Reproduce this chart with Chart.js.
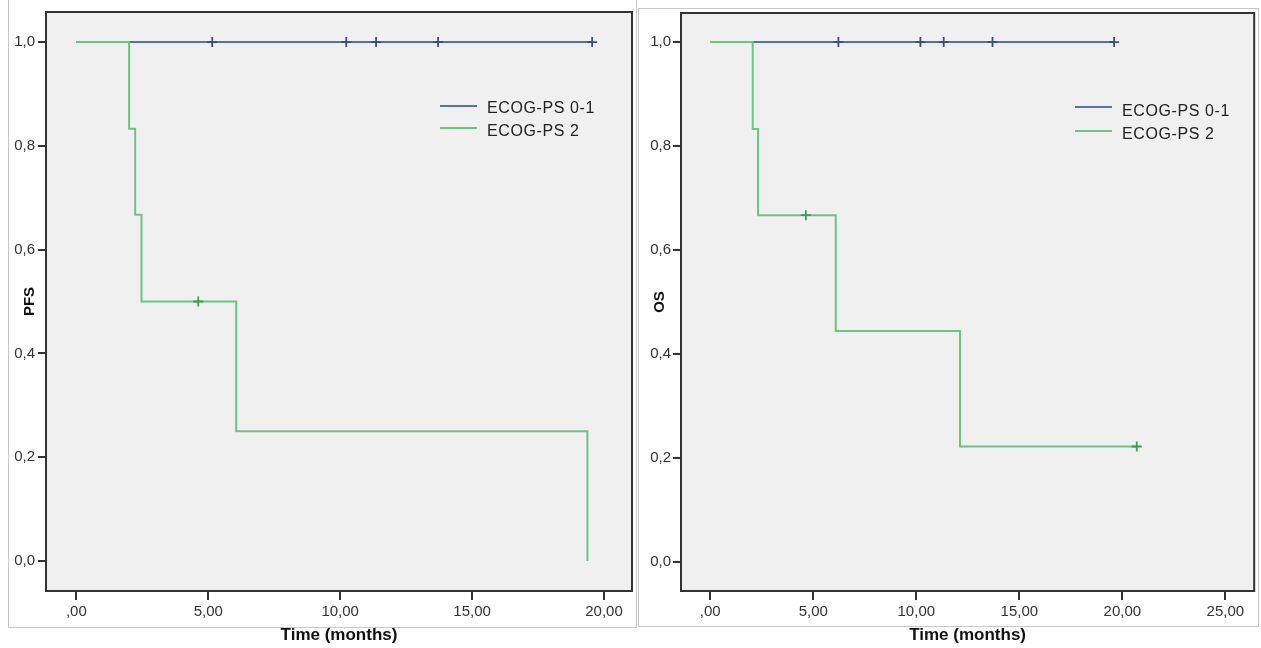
<!DOCTYPE html>
<html>
<head>
<meta charset="utf-8">
<script src="https://cdn.jsdelivr.net/npm/chart.js@4.4.0/dist/chart.umd.min.js"></script>
<style>
  body { margin: 0; background: #fff; width: 1261px; height: 648px; overflow: hidden; position: relative; font-family: "Liberation Sans", Arial, sans-serif; }
  .frame { position: absolute; border: 1px solid #c8c8c8; box-sizing: border-box; }
  .holder { position: absolute; top: 0; height: 648px; }
  .legend { position: absolute; width: 180px; height: 150px; font-size: 16px; color: #222; letter-spacing: 0.6px; }
  .legend .swatch { position: absolute; width: 37px; height: 1.5px; }
  .legend .txt { position: absolute; line-height: 18px; white-space: nowrap; }
</style>
</head>
<body>
<div class="frame" style="left:8px; top:-1px; width:629px; height:629px;"></div>
<div class="frame" style="left:638px; top:8px; width:621px; height:619px;"></div>

<div class="holder" style="left:0; width:640px;"><canvas id="chartPFS"></canvas></div>
<div class="holder" style="left:640px; width:621px;"><canvas id="chartOS"></canvas></div>

<div class="legend" id="legendPFS" style="left:440px; top:0;"></div>
<div class="legend" id="legendOS" style="left:1075px; top:0;"></div>

<script>
// series labels
var groupLabels = ['ECOG-PS 0-1', 'ECOG-PS 2'];

// PFS panel (left)
var pfsLowTimes = [0, 19.55];
var pfsLowSurv = [1, 1];
var pfsLowCensorTimes = [5.15, 10.23, 11.36, 13.71, 19.55];
var pfsLowCensorSurv = [1, 1, 1, 1, 1];
var pfsHighTimes = [0, 2.0, 2.23, 2.47, 6.06, 19.37];
var pfsHighSurv = [1, 0.833, 0.667, 0.5, 0.25, 0];
var pfsHighCensorTimes = [4.62];
var pfsHighCensorSurv = [0.5];
var pfsXTicks = [0, 5, 10, 15, 20];

// OS panel (right)
var osLowTimes = [0, 19.6];
var osLowSurv = [1, 1];
var osLowCensorTimes = [6.22, 10.2, 11.33, 13.7, 19.6];
var osLowCensorSurv = [1, 1, 1, 1, 1];
var osHighTimes = [0, 2.06, 2.32, 6.09, 12.12, 20.7];
var osHighSurv = [1, 0.833, 0.667, 0.444, 0.222, 0.222];
var osHighCensorTimes = [4.64, 20.7];
var osHighCensorSurv = [0.667, 0.222];
var osXTicks = [0, 5, 10, 15, 20, 25];

var yTicks = [0, 0.2, 0.4, 0.6, 0.8, 1.0];

var blueLine = '#5b6db5';
var blueMark = '#3d4a8f';
var greenLine = '#6cc383';
var greenMark = '#3f9a55';

function toPoints(xs, ys) {
  var pts = [];
  for (var i = 0; i < xs.length; i++) {
    pts.push({ x: xs[i], y: ys[i] });
  }
  return pts;
}

var boxPlugin = {
  id: 'plotBox',
  beforeDraw: function (chart) {
    var a = chart.chartArea;
    var ctx = chart.ctx;
    ctx.save();
    ctx.fillStyle = '#f0f0f0';
    ctx.fillRect(a.left, a.top, a.right - a.left, a.bottom - a.top);
    ctx.restore();
  },
  afterDraw: function (chart) {
    var a = chart.chartArea;
    var ctx = chart.ctx;
    ctx.save();
    ctx.strokeStyle = '#333';
    ctx.lineWidth = 2;
    ctx.strokeRect(a.left, a.top, a.right - a.left, a.bottom - a.top);
    ctx.restore();
  }
};

function makeChart(canvasId, p) {
  // lower order is painted on top, so the green curve covers the blue one
  var datasets = [
    {
      label: groupLabels[0],
      data: toPoints(p.lowT, p.lowS),
      showLine: true, stepped: true, order: 3,
      borderColor: blueLine, borderWidth: 2, pointRadius: 0
    },
    {
      label: groupLabels[0] + ' censored',
      data: toPoints(p.lowCT, p.lowCS),
      showLine: false, pointStyle: 'cross', pointRadius: 5, order: 2,
      borderColor: blueMark, pointBorderWidth: 1.8
    },
    {
      label: groupLabels[1],
      data: toPoints(p.highT, p.highS),
      showLine: true, stepped: true, order: 1,
      borderColor: greenLine, borderWidth: 2, pointRadius: 0
    },
    {
      label: groupLabels[1] + ' censored',
      data: toPoints(p.highCT, p.highCS),
      showLine: false, pointStyle: 'cross', pointRadius: 5, order: 0,
      borderColor: greenMark, pointBorderWidth: 1.8
    }
  ];

  var config = {
    type: 'scatter',
    data: { datasets: datasets },
    options: {
      responsive: true,
      maintainAspectRatio: false,
      animation: false,
      layout: { padding: { left: 0, right: p.padRight, top: p.padTop, bottom: 0 } },
      plugins: { legend: { display: false }, tooltip: { enabled: false } },
      scales: {
        x: {
          type: 'linear',
          min: p.xMin, max: p.xMax,
          afterBuildTicks: function (axis) { axis.ticks = p.xTicks.map(function (v) { return { value: v }; }); },
          afterFit: function (scale) { scale.height = 57; },
          border: { display: false },
          grid: { drawOnChartArea: false, drawTicks: true, tickLength: 9, tickColor: '#333', lineWidth: 2 },
          ticks: {
            padding: 3, color: '#333',
            font: { family: 'Liberation Sans', size: 15 },
            callback: function (v) { return v === 0 ? ',00' : v.toFixed(2).replace('.', ','); }
          },
          title: {
            display: true, text: 'Time (months)', color: '#111',
            font: { family: 'Liberation Sans', size: 17, weight: 'bold' },
            padding: { top: 0, bottom: 2 }
          }
        },
        y: {
          type: 'linear',
          min: p.yMin, max: p.yMax,
          afterBuildTicks: function (axis) { axis.ticks = yTicks.map(function (v) { return { value: v }; }); },
          afterFit: function (scale) { scale.width = p.yWidth; },
          border: { display: false },
          grid: { drawOnChartArea: false, drawTicks: true, tickLength: 8, tickColor: '#333', lineWidth: 2 },
          ticks: {
            padding: p.yTickPad, color: '#333',
            font: { family: 'Liberation Sans', size: 15 },
            callback: function (v) { return v.toFixed(1).replace('.', ','); }
          },
          title: {
            display: true, text: p.yTitle, color: '#111',
            font: { family: 'Liberation Sans', size: 15, weight: 'bold' },
            padding: { top: p.yTitlePad, bottom: 0 }
          }
        }
      }
    },
    plugins: [boxPlugin]
  };
  return new Chart(document.getElementById(canvasId), config);
}

function makeLegend(id, lineY, textY) {
  var box = document.getElementById(id);
  var colors = [blueLine, greenLine];
  for (var i = 0; i < groupLabels.length; i++) {
    var sw = document.createElement('div');
    sw.className = 'swatch';
    sw.style.left = '0px';
    sw.style.top = (lineY[i] - 1) + 'px';
    sw.style.background = colors[i];
    box.appendChild(sw);
    var tx = document.createElement('div');
    tx.className = 'txt';
    tx.style.left = '47px';
    tx.style.top = (textY[i] - 9) + 'px';
    tx.textContent = groupLabels[i];
    box.appendChild(tx);
  }
}

makeChart('chartPFS', {
  lowT: pfsLowTimes, lowS: pfsLowSurv, lowCT: pfsLowCensorTimes, lowCS: pfsLowCensorSurv,
  highT: pfsHighTimes, highS: pfsHighSurv, highCT: pfsHighCensorTimes, highCS: pfsHighCensorSurv,
  xTicks: pfsXTicks, xMin: -1.15, xMax: 21.06, yMin: -0.058, yMax: 1.058,
  padRight: 8, padTop: 10, yWidth: 46, yTickPad: 3, yTitle: 'PFS', yTitlePad: 21
});

makeChart('chartOS', {
  lowT: osLowTimes, lowS: osLowSurv, lowCT: osLowCensorTimes, lowCS: osLowCensorSurv,
  highT: osHighTimes, highS: osHighSurv, highCT: osHighCensorTimes, highCS: osHighCensorSurv,
  xTicks: osXTicks, xMin: -1.42, xMax: 26.4, yMin: -0.056, yMax: 1.056,
  padRight: 5, padTop: 13, yWidth: 41, yTickPad: 2, yTitle: 'OS', yTitlePad: 11
});

makeLegend('legendPFS', [106, 128], [108, 131]);
makeLegend('legendOS', [107, 131], [111, 134]);
</script>
</body>
</html>
